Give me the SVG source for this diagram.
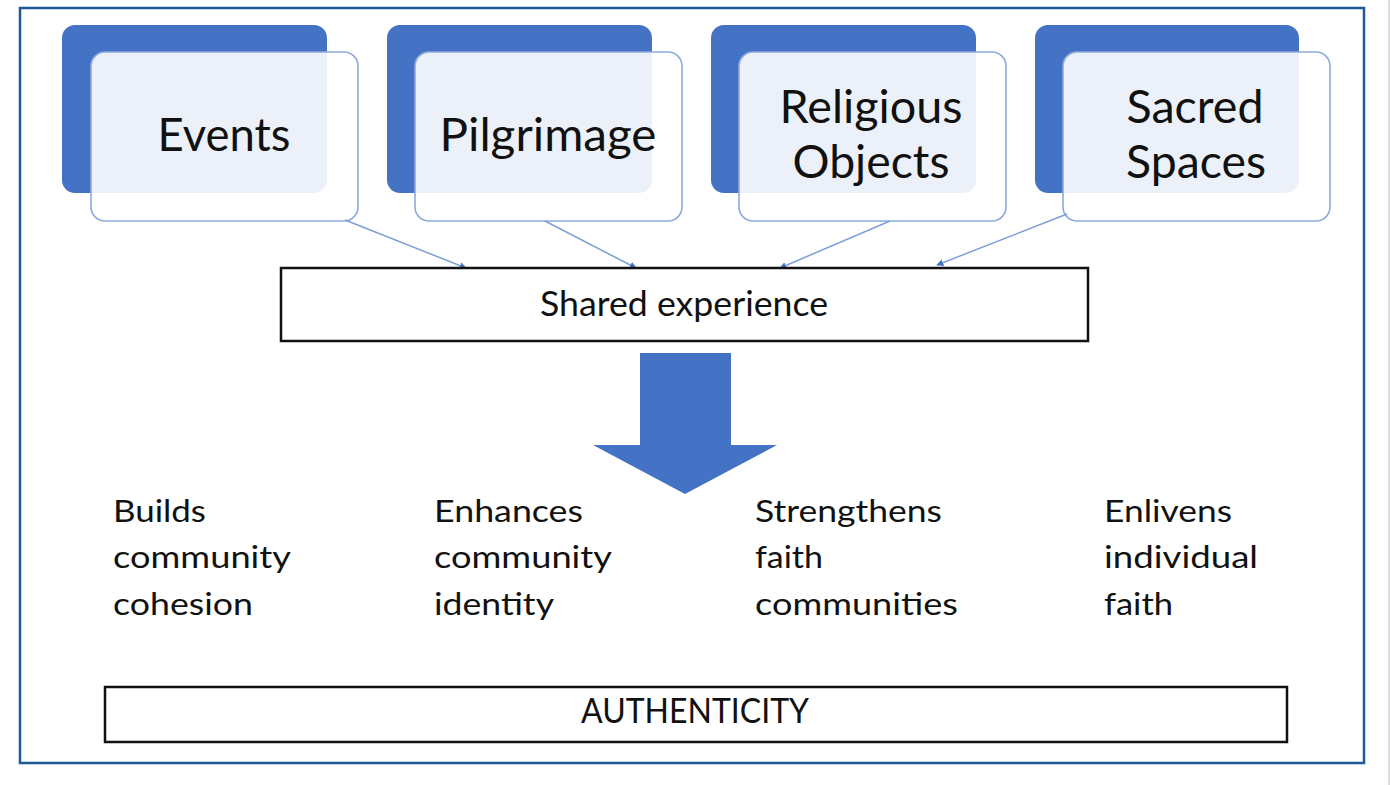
<svg xmlns="http://www.w3.org/2000/svg" width="1392" height="785" viewBox="0 0 1392 785">
<defs>
<style>
.back{fill:#4472C4;}
.front{fill:#FFFFFF;fill-opacity:0.9;stroke:#8EAADB;stroke-width:1.6;}
.t{font-family:Lato,"Open Sans",sans-serif;fill:#111;}
.title{font-size:46px;text-anchor:middle;}
.mid{font-size:35px;text-anchor:middle;}
.low{font-size:30px;}
.box{fill:#fff;stroke:#111;stroke-width:2.5;}
.conn{stroke:#7E9ED8;stroke-width:1.5;fill:none;marker-end:url(#ah);}
</style>
<marker id="ah" viewBox="0 0 10 10" refX="9" refY="5" markerWidth="7" markerHeight="7" markerUnits="userSpaceOnUse" orient="auto">
<path d="M0,0 L10,5 L0,10 Z" fill="#4472C4"/>
</marker>
</defs>
<rect x="0" y="0" width="1392" height="785" fill="#FFFFFF"/>
<line x1="1389" y1="0" x2="1389" y2="785" stroke="#D4D4D4" stroke-width="1.5"/>
<rect x="20" y="8" width="1344" height="755" fill="#FFFFFF" stroke="#1F5A96" stroke-width="2.5"/>

<g id="node-events">
<rect class="back" x="62" y="25" width="265" height="168" rx="13"/>
<rect class="front" x="91" y="52" width="267" height="169" rx="14"/>
<text class="t title" x="224" y="151" textLength="133" lengthAdjust="spacingAndGlyphs">Events</text>
</g>
<g id="node-pilgrimage">
<rect class="back" x="387" y="25" width="265" height="168" rx="13"/>
<rect class="front" x="415" y="52" width="267" height="169" rx="14"/>
<text class="t title" x="548" y="151" textLength="217" lengthAdjust="spacingAndGlyphs">Pilgrimage</text>
</g>
<g id="node-religious-objects">
<rect class="back" x="711" y="25" width="265" height="168" rx="13"/>
<rect class="front" x="739" y="52" width="267" height="169" rx="14"/>
<text class="t title" x="871" y="123" textLength="183" lengthAdjust="spacingAndGlyphs">Religious</text>
<text class="t title" x="871" y="178" textLength="157" lengthAdjust="spacingAndGlyphs">Objects</text>
</g>
<g id="node-sacred-spaces">
<rect class="back" x="1035" y="25" width="264" height="168" rx="13"/>
<rect class="front" x="1063" y="52" width="267" height="169" rx="14"/>
<text class="t title" x="1195" y="123" textLength="137" lengthAdjust="spacingAndGlyphs">Sacred</text>
<text class="t title" x="1196" y="178" textLength="140" lengthAdjust="spacingAndGlyphs">Spaces</text>
</g>

<g id="connectors">
<line class="conn" x1="345" y1="220" x2="466" y2="268"/>
<line class="conn" x1="545" y1="221" x2="636" y2="268"/>
<line class="conn" x1="890" y1="221" x2="780" y2="268"/>
<line class="conn" x1="1067" y1="214" x2="937" y2="265"/>
</g>

<g id="node-shared-experience">
<rect class="box" x="281" y="268" width="807" height="73"/>
<text class="t mid" x="684" y="316" textLength="288" lengthAdjust="spacingAndGlyphs">Shared experience</text>
</g>

<g id="big-arrow">
<polygon points="640,353 731,353 731,445 777,445 685,494 593,445 640,445" fill="#4472C4"/>
</g>

<g id="node-builds">
<text class="t low" x="113" y="522" textLength="93" lengthAdjust="spacingAndGlyphs">Builds</text>
<text class="t low" x="113" y="568" textLength="178" lengthAdjust="spacingAndGlyphs">community</text>
<text class="t low" x="113" y="615" textLength="140" lengthAdjust="spacingAndGlyphs">cohesion</text>
</g>
<g id="node-enhances">
<text class="t low" x="434" y="522" textLength="149" lengthAdjust="spacingAndGlyphs">Enhances</text>
<text class="t low" x="434" y="568" textLength="178" lengthAdjust="spacingAndGlyphs">community</text>
<text class="t low" x="434" y="615" textLength="120" lengthAdjust="spacingAndGlyphs">identity</text>
</g>
<g id="node-strengthens">
<text class="t low" x="755" y="522" textLength="187" lengthAdjust="spacingAndGlyphs">Strengthens</text>
<text class="t low" x="755" y="568" textLength="68" lengthAdjust="spacingAndGlyphs">faith</text>
<text class="t low" x="755" y="615" textLength="203" lengthAdjust="spacingAndGlyphs">communities</text>
</g>
<g id="node-enlivens">
<text class="t low" x="1104" y="522" textLength="128" lengthAdjust="spacingAndGlyphs">Enlivens</text>
<text class="t low" x="1104" y="568" textLength="154" lengthAdjust="spacingAndGlyphs">individual</text>
<text class="t low" x="1104" y="615" textLength="69" lengthAdjust="spacingAndGlyphs">faith</text>
</g>

<g id="node-authenticity">
<rect class="box" x="105" y="687" width="1182" height="55"/>
<text class="t mid" x="695" y="723" textLength="228" lengthAdjust="spacingAndGlyphs">AUTHENTICITY</text>
</g>
</svg>
